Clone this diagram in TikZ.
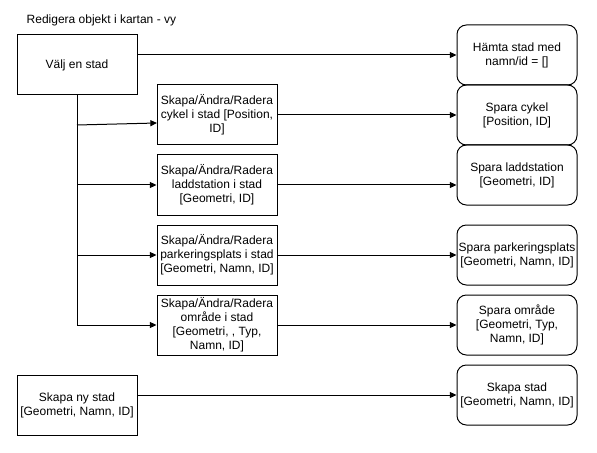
\documentclass[tikz,border=0pt]{standalone}
\usepackage{fontspec}
\setmainfont{Liberation Sans}
\usetikzlibrary{arrows.meta}
\begin{document}
\begin{tikzpicture}[x=0.75pt,y=-0.75pt,
  box/.style={draw=black,line width=0.75pt,minimum width=90pt,minimum height=45pt,inner sep=1pt,align=center,font=\fontsize{9}{10.5}\selectfont},
  rbox/.style={box,rounded corners=7pt},
  conn/.style={line width=0.75pt,-{Triangle[length=5pt,width=4.5pt]}},
  trunk/.style={line width=0.75pt}]
\useasboundingbox (0,0) rectangle (597,453);
\fill[white] (0,0) rectangle (597,453);
\node[anchor=west,font=\fontsize{9}{10.5}\selectfont] (title) at (22,20) {Redigera objekt i kartan - vy};
\node[box] (valj) at (77,65) {Välj en stad};
\node[box] (cykel) at (217,115) {Skapa/Ändra/Radera\\cykel i stad [Position,\\ID]};
\node[box] (ladd) at (217,185) {Skapa/Ändra/Radera\\laddstation i stad\\{[Geometri, ID]}};
\node[box] (park) at (217,255) {Skapa/Ändra/Radera\\parkeringsplats i stad\\{[Geometri, Namn, ID]}};
\node[box] (omr) at (217,325) {Skapa/Ändra/Radera\\område i stad\\{[Geometri, , Typ,}\\Namn, ID]};
\node[box] (ny) at (77,405) {Skapa ny stad\\{[Geometri, Namn, ID]}};
\node[rbox] (hamta) at (517,55) {Hämta stad med\\namn/id = []};
\node[rbox] (scykel) at (517,115) {Spara cykel\\{[Position, ID]}};
\node[rbox] (sladd) at (517,175) {Spara laddstation\\{[Geometri, ID]}};
\node[rbox] (spark) at (517,255) {Spara parkeringsplats\\{[Geometri, Namn, ID]}};
\node[rbox] (somr) at (517,325) {Spara område\\{[Geometri, Typ,}\\Namn, ID]};
\node[rbox] (sstad) at (517,395) {Skapa stad\\{[Geometri, Namn, ID]}};
\coordinate (t1) at (77,125);
\coordinate (c1) at (157,123);
\coordinate (t2) at (77,185);
\coordinate (t3) at (77,255);
\coordinate (t4) at (77,325);
\draw[trunk] (valj.south) -- (t4);
\draw[conn] (t1) -- (c1);
\draw[conn] (t2) -- (ladd.west);
\draw[conn] (t3) -- (park.west);
\draw[conn] (t4) -- (omr.west);
\draw[conn] (valj.east |- hamta.west) -- (hamta.west);
\draw[conn] (cykel.east) -- (scykel.west);
\draw[conn] (ladd.east) -- (ladd.east -| sladd.west);
\draw[conn] (park.east) -- (spark.west);
\draw[conn] (omr.east) -- (somr.west);
\draw[conn] (ny.east |- sstad.west) -- (sstad.west);
\end{tikzpicture}
\end{document}
